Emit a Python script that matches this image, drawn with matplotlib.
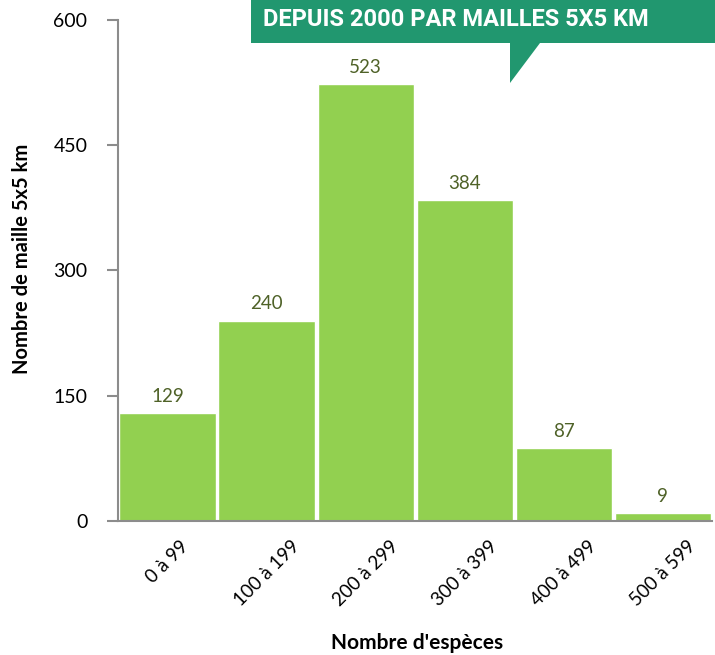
import matplotlib.pyplot as plt
from matplotlib.patches import Polygon

# data
categories = ['0 à 99', '100 à 199', '200 à 299', '300 à 399', '400 à 499', '500 à 599']
counts = [129, 240, 523, 384, 87, 9]
y_ticks = [0, 150, 300, 450, 600]

bar_color = '#92d050'
label_color = '#4f6228'
banner_color = '#21976f'

plt.rcParams['font.family'] = ['Lato', 'DejaVu Sans']

W, H = 715, 655
fig = plt.figure(figsize=(W / 100, H / 100), dpi=100)
ax = fig.add_axes([0.165, 0.2046, 0.831, 0.765])

x = range(len(categories))
bars = ax.bar(x, counts, width=0.97, color=bar_color, edgecolor='white', linewidth=1)

for b, v in zip(bars, counts):
    ax.text(b.get_x() + b.get_width() / 2, v + 10, str(v), ha='center', va='bottom',
            fontsize=13.5, color=label_color)

ax.set_xlim(-0.5, 5.5)
ax.set_ylim(0, 600)
ax.set_yticks(y_ticks)
ax.set_xticks(list(x))
ax.set_xticklabels(categories, rotation=45, ha='center', va='top', fontsize=13.5)
ax.tick_params(axis='x', length=0, pad=12)
ax.tick_params(axis='y', length=8, width=1.5, color='#8c8c8c', labelsize=14, pad=14)

for side in ['top', 'right']:
    ax.spines[side].set_visible(False)
for side in ['left', 'bottom']:
    ax.spines[side].set_color('#8c8c8c')
    ax.spines[side].set_linewidth(1.5)

# axis titles placed in figure pixels
fig.text(22 / W, 1 - 259 / H, 'Nombre de maille 5x5 km', rotation=90, ha='center', va='center',
         fontsize=14.5, fontweight='bold')
fig.text(417 / W, 1 - 643 / H, "Nombre d'espèces", ha='center', va='center',
         fontsize=15, fontweight='bold')

# banner with speech-bubble tail
def fp(px, py):
    return (px / W, 1 - py / H)

banner = Polygon([fp(251, 0), fp(715, 0), fp(715, 43), fp(540, 43), fp(510, 83),
                  fp(510, 43), fp(251, 43)], closed=True, transform=fig.transFigure,
                 facecolor=banner_color, edgecolor='none', zorder=5)
fig.patches.append(banner)
fig.text(456 / W, 1 - 19 / H, 'DEPUIS 2000 PAR MAILLES 5X5 KM', color='white',
         fontsize=17, fontweight='bold', ha='center', va='center',
         family=['Roboto', 'DejaVu Sans'], zorder=6)

fig.savefig('out.png', dpi=100)
